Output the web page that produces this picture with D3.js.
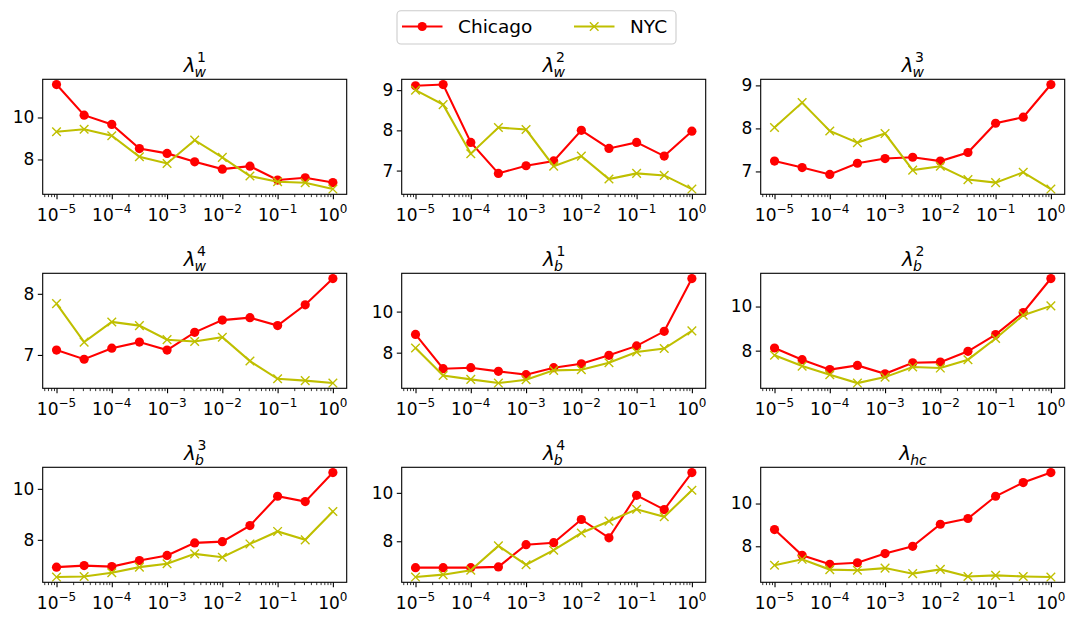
<!DOCTYPE html>
<html>
<head>
<meta charset="utf-8">
<title>lambda sensitivity</title>
<script src="https://cdn.jsdelivr.net/npm/d3@7"></script>
<style>
    body { margin: 0; background: #fff; }
    svg text { font-family: "DejaVu Sans", sans-serif; fill: #000; }
</style>
</head>
<body>
<svg id="fig" width="1075" height="622"></svg>
<script>
    // x values (half decades)
    var xVals = [1e-5, 3.16e-5, 1e-4, 3.16e-4, 1e-3, 3.16e-3, 1e-2, 3.16e-2, 1e-1, 3.16e-1, 1];
    var xMajor = [1e-5, 1e-4, 1e-3, 1e-2, 1e-1, 1];
    var xExp = ["\u22125", "\u22124", "\u22123", "\u22122", "\u22121", "0"];

    var seriesNames = ["Chicago", "NYC"];

    // panel titles: lambda with subscript / superscript
    var titleSub = ["w", "w", "w", "w", "b", "b", "b", "b", "hc"];
    var titleSup = ["1", "2", "3", "4", "1", "2", "3", "4", ""];

    // y tick values per panel
    var yTicks = [[8, 10], [7, 8, 9], [7, 8, 9], [7, 8], [8, 10], [8, 10], [8, 10], [8, 10], [8, 10]];

    // values
    var chiW1 = [11.57, 10.11, 9.67, 8.52, 8.29, 7.89, 7.54, 7.68, 7.02, 7.13, 6.90];
    var nycW1 = [9.32, 9.44, 9.13, 8.13, 7.81, 8.92, 8.10, 7.21, 6.94, 6.89, 6.59];
    var chiW2 = [9.11, 9.14, 7.70, 6.93, 7.12, 7.24, 8.00, 7.55, 7.70, 7.36, 7.98];
    var nycW2 = [9.00, 8.64, 7.42, 8.07, 8.02, 7.11, 7.36, 6.79, 6.93, 6.88, 6.54];
    var chiW3 = [7.24, 7.09, 6.93, 7.19, 7.30, 7.33, 7.24, 7.44, 8.12, 8.26, 9.02];
    var nycW3 = [8.02, 8.60, 7.94, 7.67, 7.88, 7.03, 7.12, 6.81, 6.74, 6.98, 6.59];
    var chiW4 = [7.08, 6.93, 7.11, 7.21, 7.08, 7.37, 7.57, 7.61, 7.48, 7.82, 8.25];
    var nycW4 = [7.84, 7.21, 7.54, 7.48, 7.25, 7.22, 7.29, 6.90, 6.61, 6.58, 6.54];
    var chiB1 = [8.89, 7.22, 7.27, 7.09, 6.93, 7.27, 7.46, 7.87, 8.33, 9.04, 11.61];
    var nycB1 = [8.23, 6.89, 6.70, 6.52, 6.68, 7.14, 7.17, 7.51, 8.03, 8.20, 9.06];
    var chiB2 = [8.12, 7.59, 7.14, 7.33, 6.95, 7.45, 7.48, 7.97, 8.73, 9.73, 11.27];
    var nycB2 = [7.79, 7.30, 6.91, 6.53, 6.80, 7.26, 7.21, 7.59, 8.55, 9.61, 10.03];
    var chiB3 = [6.93, 6.99, 6.95, 7.19, 7.39, 7.88, 7.93, 8.56, 9.71, 9.50, 10.64];
    var nycB3 = [6.54, 6.56, 6.71, 6.93, 7.06, 7.45, 7.32, 7.84, 8.33, 8.00, 9.11];
    var chiB4 = [6.91, 6.91, 6.91, 6.94, 7.86, 7.94, 8.90, 8.14, 9.90, 9.31, 10.84];
    var nycB4 = [6.52, 6.62, 6.80, 7.81, 7.03, 7.63, 8.34, 8.83, 9.32, 9.01, 10.11];
    var chiHc = [8.78, 7.58, 7.16, 7.23, 7.66, 8.00, 9.03, 9.30, 10.34, 10.98, 11.45];
    var nycHc = [7.11, 7.39, 6.91, 6.88, 6.98, 6.72, 6.92, 6.59, 6.64, 6.59, 6.56];

    var chicago = [chiW1, chiW2, chiW3, chiW4, chiB1, chiB2, chiB3, chiB4, chiHc];
    var nyc = [nycW1, nycW2, nycW3, nycW4, nycB1, nycB2, nycB3, nycB4, nycHc];

    var RED = "#ff0000", YEL = "#bfbf00";
    var W = 304, H = 115;
    var MR = 4.6;
    var fig = d3.select("#fig");

    // minor ticks 2..9 per decade inside the x range
    var xLo = Math.pow(10, -5.25), xHi = Math.pow(10, 0.25);
    var xMinor = [];
    for (var e = -6; e <= 0; e++) {
        for (var k = 2; k <= 9; k++) {
            var v = k * Math.pow(10, e);
            if (v >= xLo && v <= xHi) xMinor.push(v);
        }
    }

    chicago.forEach(function(chi, i) {
        var col = i % 3, row = Math.floor(i / 3);
        var left = 42.7 + col * 359, top = 79.3 + row * 194;
        var g = fig.append("g").attr("transform", "translate(" + left + "," + top + ")");

        var x = d3.scaleLog().domain([xLo, xHi]).range([0, W]);
        var all = chi.concat(nyc[i]);
        var lo = d3.min(all), hi = d3.max(all), m = (hi - lo) * 0.05;
        var y = d3.scaleLinear().domain([lo - m, hi + m]).range([H, 0]);

        // y axis
        var ya = g.append("g")
            .call(d3.axisLeft(y).tickValues(yTicks[i]).tickSize(4.9).tickPadding(3.5).tickFormat(d3.format("d")));
        ya.select(".domain").remove();
        ya.selectAll("line").attr("stroke", "#000").attr("stroke-width", 1.1);
        ya.selectAll("text").attr("font-size", "17px").attr("font-family", "DejaVu Sans");

        // x axis major + minor
        var xa = g.append("g").attr("transform", "translate(0," + H + ")")
            .call(d3.axisBottom(x).tickValues(xMajor).tickSize(4.9).tickFormat(""));
        xa.select(".domain").remove();
        xa.selectAll("line").attr("stroke", "#000").attr("stroke-width", 1.1);
        var xm = g.append("g").attr("transform", "translate(0," + H + ")")
            .call(d3.axisBottom(x).tickValues(xMinor).tickSize(2.8).tickFormat(""));
        xm.select(".domain").remove();
        xm.selectAll("line").attr("stroke", "#000").attr("stroke-width", 0.8);

        // x tick labels 10^n
        var lab = g.append("g").selectAll("text").data(xMajor).enter().append("text")
            .attr("x", function(d) { return x(d); })
            .attr("y", H + 26.5)
            .attr("text-anchor", "middle")
            .attr("font-size", "17px");
        lab.append("tspan").text("10");
        lab.append("tspan").attr("dy", -7.5).attr("font-size", "12px")
            .text(function(d, j) { return xExp[j]; });

        // lines and markers
        var line = d3.line().x(function(d, j) { return x(xVals[j]); }).y(function(d) { return y(d); });
        var clipId = "clip" + i;
        g.append("clipPath").attr("id", clipId).append("rect").attr("width", W).attr("height", H);
        var plot = g.append("g").attr("clip-path", "url(#" + clipId + ")");

        plot.append("path").datum(chi).attr("d", line)
            .attr("fill", "none").attr("stroke", RED).attr("stroke-width", 2.08);
        plot.selectAll(".dot").data(chi).enter().append("circle")
            .attr("cx", function(d, j) { return x(xVals[j]); })
            .attr("cy", function(d) { return y(d); })
            .attr("r", MR).attr("fill", RED);

        plot.append("path").datum(nyc[i]).attr("d", line)
            .attr("fill", "none").attr("stroke", YEL).attr("stroke-width", 2.08);
        plot.selectAll(".cross").data(nyc[i]).enter().append("path")
            .attr("transform", function(d, j) { return "translate(" + x(xVals[j]) + "," + y(d) + ")"; })
            .attr("d", "M-4.3,-4.3L4.3,4.3M-4.3,4.3L4.3,-4.3")
            .attr("stroke", YEL).attr("stroke-width", 1.4).attr("fill", "none");

        // frame
        g.append("rect").attr("width", W).attr("height", H)
            .attr("fill", "none").attr("stroke", "#000").attr("stroke-width", 1.1);

        // title
        var t = g.append("g");
        var lam = t.append("text").attr("x", 0).attr("y", 0).attr("font-size", "20px")
            .attr("font-style", "italic").text("\u03bb");
        var lw = lam.node().getComputedTextLength();
        if (titleSup[i]) {
            t.append("text").attr("x", lw + 1.5).attr("y", -10).attr("font-size", "14px").text(titleSup[i]);
        }
        t.append("text").attr("x", lw - 1).attr("y", 5).attr("font-size", "14px")
            .attr("font-style", "italic").text(titleSub[i]);
        var bb = t.node().getBBox();
        t.attr("transform", "translate(" + (W / 2 - bb.x - bb.width / 2) + "," + (-7.6) + ")");
    });

    // legend
    var leg = fig.append("g");
    leg.append("rect").attr("x", 397).attr("y", 10.7).attr("width", 279).attr("height", 33.3)
        .attr("rx", 4).attr("fill", "#fff").attr("fill-opacity", 0.8)
        .attr("stroke", "#cccccc").attr("stroke-width", 1.1);
    var legX = [402, 574];
    var legC = [RED, YEL];
    seriesNames.forEach(function(name, j) {
        var lx = legX[j], ly = 26.5;
        leg.append("line").attr("x1", lx).attr("x2", lx + 40.5).attr("y1", ly).attr("y2", ly)
            .attr("stroke", legC[j]).attr("stroke-width", 2.08);
        if (j === 0) {
            leg.append("circle").attr("cx", lx + 20.2).attr("cy", ly).attr("r", MR).attr("fill", RED);
        } else {
            leg.append("path").attr("transform", "translate(" + (lx + 20.2) + "," + ly + ")")
                .attr("d", "M-4.3,-4.3L4.3,4.3M-4.3,4.3L4.3,-4.3")
                .attr("stroke", YEL).attr("stroke-width", 1.4);
        }
        leg.append("text").attr("x", lx + 56).attr("y", ly + 6.8)
            .attr("font-size", "18.5px").text(name);
    });
</script>
</body>
</html>
